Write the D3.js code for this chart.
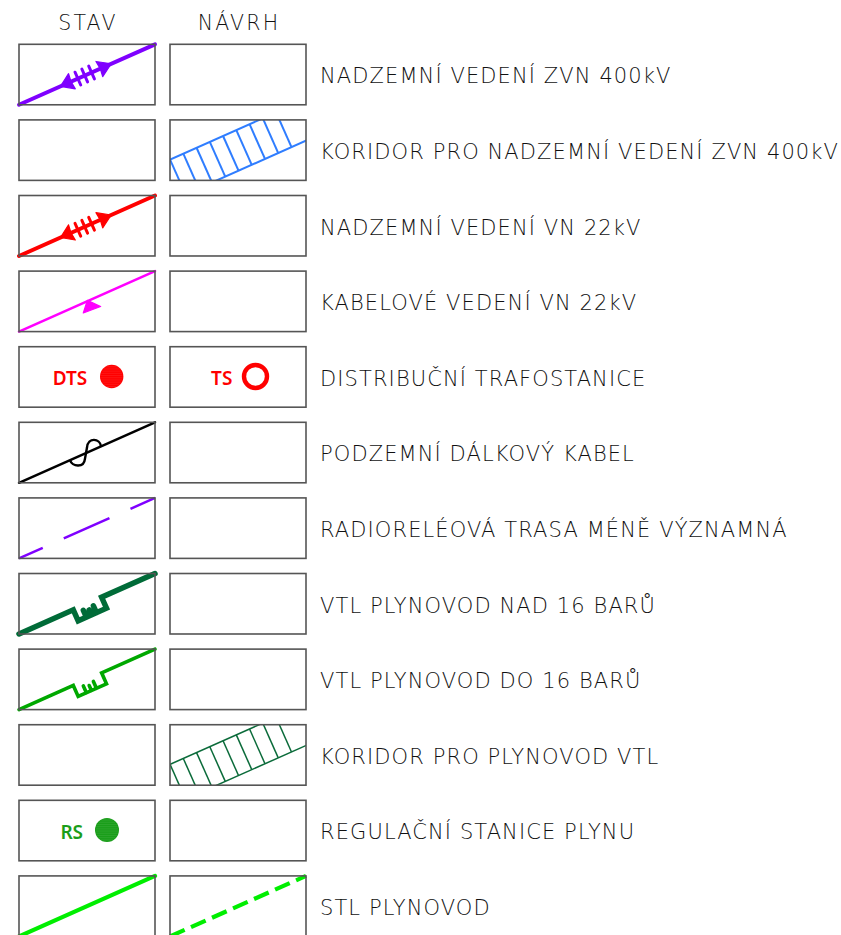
<!DOCTYPE html>
<html><head><meta charset="utf-8">
<script src="https://cdn.jsdelivr.net/npm/d3@7"></script>
<style>html,body{margin:0;padding:0;background:#fff;overflow:hidden}</style>
</head><body>
<svg id="c" width="841" height="935"></svg>
<script>
// ---- data ----
const headers = ["STAV", "NÁVRH"];
const labels = [
  "NADZEMNÍ VEDENÍ ZVN 400kV",
  "KORIDOR PRO NADZEMNÍ VEDENÍ ZVN 400kV",
  "NADZEMNÍ VEDENÍ VN 22kV",
  "KABELOVÉ VEDENÍ VN 22kV",
  "DISTRIBUČNÍ TRAFOSTANICE",
  "PODZEMNÍ DÁLKOVÝ KABEL",
  "RADIORELÉOVÁ TRASA MÉNĚ VÝZNAMNÁ",
  "VTL PLYNOVOD NAD 16 BARŮ",
  "VTL PLYNOVOD DO 16 BARŮ",
  "KORIDOR PRO PLYNOVOD VTL",
  "REGULAČNÍ STANICE PLYNU",
  "STL PLYNOVOD"
];
const stavSymbols = ["zvn", "none", "vn", "kabel", "dts", "dalkovy", "radio", "vtlNad", "vtlDo", "none", "rs", "stl"];
const navrhSymbols = ["none", "koridorZvn", "none", "none", "ts", "none", "none", "none", "none", "koridorVtl", "none", "stlNavrh"];
const stationTexts = { dts: "DTS", ts: "TS", rs: "RS" };

// ---- layout ----
const svg = d3.select("#c");
const rows = d3.range(labels.length);
const y = d3.scaleBand().domain(rows).range([44.3, 44.3 + 12 * 75.6 - 15.1]).paddingInner(0.2).paddingOuter(0);
const x = d3.scaleBand().domain(headers).range([19, 306]).paddingInner(15 / 151).paddingOuter(0);
const W = x.bandwidth(), H = y.bandwidth();
const ang = Math.atan2(H, W) * 180 / Math.PI;
const half = Math.hypot(W, H) / 2;

// headers
svg.selectAll("text.hdr").data(headers).join("text")
  .attr("class", "hdr")
  .attr("x", d => x(d) + W / 2 + 1)
  .attr("y", 30)
  .attr("text-anchor", "middle")
  .attr("font-family", "DejaVu Sans")
  .attr("font-weight", 200)
  .attr("font-size", 20.5)
  .attr("letter-spacing", 2.2)
  .attr("fill", "#111")
  .text(d => d);

// labels
svg.selectAll("text.lbl").data(labels).join("text")
  .attr("class", "lbl")
  .attr("x", 320)
  .attr("y", (d, i) => y(i) + H / 2 + 8.8)
  .attr("font-family", "DejaVu Sans")
  .attr("font-weight", 200)
  .attr("font-size", 21)
  .attr("letter-spacing", 1.1)
  .attr("fill", "#111")
  .text(d => d);

const defs = svg.append("defs");
defs.append("clipPath").attr("id", "boxclip").append("rect")
  .attr("x", -W / 2).attr("y", -H / 2).attr("width", W).attr("height", H);

const cells = [];
rows.forEach(i => {
  cells.push({ row: i, col: headers[0], sym: stavSymbols[i] });
  cells.push({ row: i, col: headers[1], sym: navrhSymbols[i] });
});

const cellG = svg.selectAll("g.cell").data(cells).join("g")
  .attr("class", "cell")
  .attr("transform", d => `translate(${x(d.col) + W / 2},${y(d.row) + H / 2})`);

function diag(gr, color, width, dash) {
  const l = gr.append("line").attr("x1", -half).attr("x2", half).attr("y1", 0).attr("y2", 0)
    .attr("stroke", color).attr("stroke-width", width).attr("stroke-linecap", dash ? "butt" : "round");
  if (dash) l.attr("stroke-dasharray", dash);
  return l;
}
function poly(gr, pts, color) {
  gr.append("polygon").attr("points", pts.map(p => p.join(",")).join(" "))
    .attr("fill", color).attr("stroke", color).attr("stroke-width", 1.2).attr("stroke-linejoin", "round");
}
function overhead(gr, color) {
  diag(gr, color, 4);
  poly(gr, [[-29, 0], [-16.5, -8.3], [-17.5, 0], [-16.5, 8.3]], color);
  poly(gr, [[26.5, 0], [13.5, -8.3], [14.5, 0], [13.5, 8.3]], color);
  [-10, -2.5, 5].forEach(u => gr.append("line").attr("x1", u).attr("x2", u).attr("y1", -7).attr("y2", 7)
    .attr("stroke", color).attr("stroke-width", 3).attr("stroke-linecap", "round"));
}
function gas(gr, color, width) {
  const p = d3.path();
  p.moveTo(-half, 0); p.lineTo(-15, 0); p.lineTo(-15, 12); p.lineTo(16, 12); p.lineTo(16, 0); p.lineTo(half, 0);
  p.moveTo(-6, 12); p.lineTo(-6, 4.5); p.moveTo(-0.5, 12); p.lineTo(-0.5, 6.5); p.moveTo(5, 12); p.lineTo(5, 4.5);
  gr.append("path").attr("d", p.toString()).attr("fill", "none").attr("stroke", color)
    .attr("stroke-width", width).attr("stroke-linejoin", "miter").attr("stroke-linecap", "round");
}
function corridor(g, color, width) {
  const cg = g.append("g").attr("clip-path", "url(#boxclip)");
  const gr = cg.append("g").attr("transform", `rotate(${-ang})`);
  [-19, 19].forEach(v => gr.append("line").attr("x1", -110).attr("x2", 110).attr("y1", v).attr("y2", v)
    .attr("stroke", color).attr("stroke-width", width));
  d3.range(-8, 9).forEach(k => {
    const u = -65.9 + k * 14.5;
    gr.append("line").attr("x1", u).attr("x2", u).attr("y1", -19).attr("y2", 19)
      .attr("stroke", color).attr("stroke-width", width);
  });
}
function station(g, text, dx, color, cx, r, filled) {
  g.append("text").attr("x", dx).attr("y", 8.2).attr("text-anchor", "middle")
    .attr("font-family", "Noto Sans").attr("font-weight", 600).attr("font-size", 19)
    .attr("fill", color).text(text);
  if (filled) {
    g.append("circle").attr("cx", cx).attr("cy", -0.5).attr("r", r).attr("fill", color);
    d3.range(-r + 2, r, 2.2).forEach(yy => {
      const hw = Math.sqrt(Math.max(0, r * r - yy * yy)) - 1;
      g.append("line").attr("x1", cx - hw).attr("x2", cx + hw).attr("y1", yy - 0.5).attr("y2", yy - 0.5)
        .attr("stroke", "#fff").attr("stroke-opacity", 0.12).attr("stroke-width", 0.7);
    });
  } else {
    g.append("circle").attr("cx", cx).attr("cy", -0.5).attr("r", r).attr("fill", "none")
      .attr("stroke", color).attr("stroke-width", 4.4);
  }
}

const draw = {
  none: () => {},
  zvn: (g, gr) => overhead(gr, "#7f00ff"),
  vn: (g, gr) => overhead(gr, "#ff0000"),
  kabel: (g, gr) => {
    diag(gr, "#ff00ff", 2.6);
    poly(gr, [[0.7, -0.8], [10.4, 10.2], [-8.1, 9.1]], "#ff00ff");
  },
  dts: (g) => station(g, stationTexts.dts, -17, "#ff0000", 24.7, 11.7, true),
  ts: (g) => station(g, stationTexts.ts, -16.3, "#ff0000", 17.5, 11.5, false),
  dalkovy: (g, gr) => {
    diag(gr, "#000", 2.5);
    g.append("path").attr("d", "M14,-6.3 C13,-14 1,-16 0,-5 L-2,6 C-3,16 -15,14 -17,7.5")
      .attr("fill", "none").attr("stroke", "#000").attr("stroke-width", 2.4);
  },
  radio: (g, gr) => diag(gr, "#7f00ff", 2.5, "26 23 50 23 28"),
  vtlNad: (g, gr) => gas(gr, "#006b38", 5.5),
  vtlDo: (g, gr) => gas(gr, "#00a800", 3.6),
  koridorZvn: (g) => corridor(g, "#2f7dff", 2),
  koridorVtl: (g) => corridor(g, "#0b6b3a", 1.5),
  rs: (g) => station(g, stationTexts.rs, -15.3, "#1a9e1a", 20, 12, true),
  stl: (g, gr) => diag(gr, "#00ee00", 4.2),
  stlNavrh: (g, gr) => diag(gr, "#00ee00", 4.2, "16 7")
};

cellG.each(function (d) {
  const g = d3.select(this);
  const gr = g.append("g").attr("transform", `rotate(${-ang})`);
  draw[d.sym](g, gr);
  g.append("rect").attr("x", -W / 2).attr("y", -H / 2).attr("width", W).attr("height", H)
    .attr("fill", "none").attr("stroke", "#555").attr("stroke-width", 1.6);
});
</script>
</body></html>
